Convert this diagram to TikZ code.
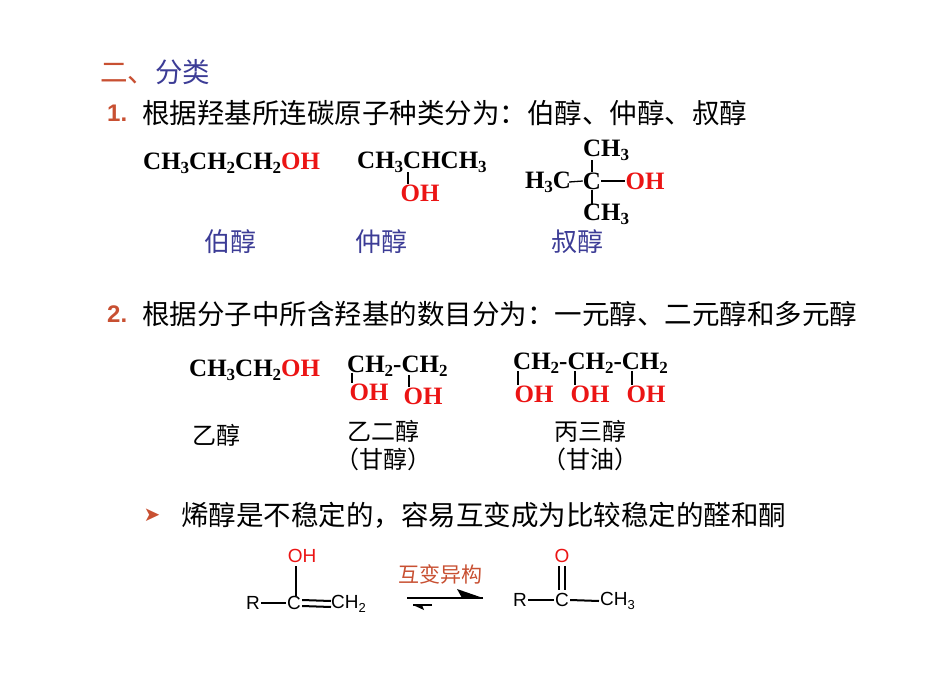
\documentclass[tikz,border=0pt]{standalone}
\usepackage{fontspec}
\setmainfont{Liberation Serif}
\setsansfont{Liberation Sans}
\newfontfamily\cjk{Noto Sans CJK SC}
\usetikzlibrary{arrows.meta}
\definecolor{hblue}{RGB}{60,60,150}
\definecolor{hred}{RGB}{200,80,50}
\definecolor{ohred}{RGB}{235,20,20}
\newcommand\ssb[1]{\raisebox{-0.35ex}{\fontsize{17}{17}\selectfont #1}}
\newcommand\fsb[1]{\raisebox{-0.35ex}{\fontsize{13}{13}\selectfont #1}}
\begin{document}
\begin{tikzpicture}[x=1pt,y=-1pt,
  cn/.style={inner sep=0pt,anchor=west,font=\fontsize{25}{25}\selectfont\bfseries},
  head/.style={inner sep=0pt,anchor=west,font=\cjk\fontsize{27.5}{27.5}\selectfont},
  lab/.style={inner sep=0pt,font=\cjk\fontsize{26}{26}\selectfont,text=hblue},
  nm/.style={inner sep=0pt,font=\cjk\fontsize{24}{24}\selectfont},
  sf/.style={inner sep=0pt,font=\sffamily\fontsize{19}{19}\selectfont},
  bond/.style={line width=1.3pt},
  sbond/.style={line width=2pt}]
\useasboundingbox (0,0) rectangle (950,672);
\newcommand\OHr{\textcolor{ohred}{OH}}
\node[head] (t0) at (100,72) {\textcolor{hred}{二、}\textcolor{hblue}{分类}};
\node[head,text=hred,font=\sffamily\bfseries\fontsize{24}{24}\selectfont] (n1h) at (107,113) {1.};
\node[head] (t1) at (142,113) {根据羟基所连碳原子种类分为：伯醇、仲醇、叔醇};
\node[cn] (p1) at (143,163) {CH\ssb{3}CH\ssb{2}CH\ssb{2}\OHr};
\node[cn] (p2) at (357,162) {CH\ssb{3}CHCH\ssb{3}};
\node[cn,anchor=center] (p2o) at (420,193) {\OHr};
\draw[bond] (408,172) -- (p2o.north -| 408,0);
\node[cn,anchor=center] (q1) at (606,150) {CH\ssb{3}};
\node[cn,anchor=center] (q2) at (548,182) {H\ssb{3}C};
\node[cn,anchor=center] (qc) at (592,181) {C};
\node[cn,anchor=center] (qo) at (645,181) {\OHr};
\node[cn,anchor=center] (q3) at (606,214) {CH\ssb{3}};
\draw[bond] ([xshift=-2pt]q2.east) -- (qc.west);
\draw[bond] (qc.east) -- (qo.west);
\draw[bond] (592,160) -- (qc.north);
\draw[bond] (qc.south) -- (592,205);
\node[lab] (l1) at (230,242) {伯醇};
\node[lab] (l2) at (381,242) {仲醇};
\node[lab] (l3) at (577,242) {叔醇};
\node[head,text=hred,font=\sffamily\bfseries\fontsize{24}{24}\selectfont] (n2h) at (107,314) {2.};
\node[head] (t2) at (142,314) {根据分子中所含羟基的数目分为：一元醇、二元醇和多元醇};
\node[cn] (e1) at (189,370) {CH\ssb{3}CH\ssb{2}\OHr};
\node[cn] (g1) at (347,366) {CH\ssb{2}-CH\ssb{2}};
\node[cn,anchor=center] (go1) at (369,392) {\OHr};
\node[cn,anchor=center] (go2) at (423,396) {\OHr};
\draw[bond] (352,373) -- (352,383);
\draw[bond] (409,375) -- (409,387);
\node[cn] (y1) at (513,363) {CH\ssb{2}-CH\ssb{2}-CH\ssb{2}};
\node[cn,anchor=center] (yo1) at (534,394) {\OHr};
\node[cn,anchor=center] (yo2) at (590,394) {\OHr};
\node[cn,anchor=center] (yo3) at (646,394) {\OHr};
\draw[bond] (518,371) -- (518,385);
\draw[bond] (575,371) -- (575,385);
\draw[bond] (632,371) -- (632,385);
\node[nm] (n1) at (216,435) {乙醇};
\node[nm] (n2) at (383,431) {乙二醇};
\node[nm] (n3) at (383,459) {（甘醇）};
\node[nm] (n4) at (590,431) {丙三醇};
\node[nm] (n5) at (590,459) {（甘油）};
\node[inner sep=0pt,text=hred,font=\fontspec{DejaVu Sans}\fontsize{20}{20}\selectfont] (bul) at (152,515) {➤};
\node[head] (t3) at (181,515) {烯醇是不稳定的，容易互变成为比较稳定的醛和酮};
% enol
\node[sf] (eR) at (253,603) {R};
\node[sf] (eC) at (294,603) {C};
\node[sf,anchor=west] (eCH) at (331,604) {CH\fsb{2}};
\node[sf,text=ohred] (eO) at (302,556) {OH};
\draw[sbond] ([xshift=1pt]eR.east) -- ([xshift=-1pt]eC.west);
\draw[sbond] ([xshift=1pt,yshift=-3pt]eC.east) -- ([xshift=0pt,yshift=-3pt]eCH.west);
\draw[sbond] ([xshift=1pt,yshift=3pt]eC.east) -- ([xshift=0pt,yshift=3pt]eCH.west);
\draw[sbond] (296,566) -- (eC.north -| 296,0);
\node[inner sep=0pt,font=\cjk\fontsize{21}{21}\selectfont,text=hred] (iso) at (440,574) {互变异构};
\coordinate (a1) at (407,598); \coordinate (a2) at (483,598);
\coordinate (b1) at (432,605); \coordinate (b2) at (413,605);
\draw[line width=2.2pt] (a1) -- (a2);
\fill (a2) -- (457,589) -- (462,598) -- cycle;
\draw[line width=1.6pt] (b1) -- (b2);
\fill (b2) -- (424,610) -- (422,605) -- cycle;
% ketone
\node[sf] (kR) at (520,600) {R};
\node[sf] (kC) at (562,600) {C};
\node[sf,anchor=west] (kCH) at (600,601) {CH\fsb{3}};
\node[sf,text=ohred] (kO) at (562,556) {O};
\draw[sbond] ([xshift=1pt]kR.east) -- ([xshift=-1pt]kC.west);
\draw[sbond] ([xshift=1pt]kC.east) -- ([xshift=-1pt]kCH.west);
\draw[sbond] (559,566) -- (559,590);
\draw[sbond] (565,566) -- (565,590);
\end{tikzpicture}
\end{document}
